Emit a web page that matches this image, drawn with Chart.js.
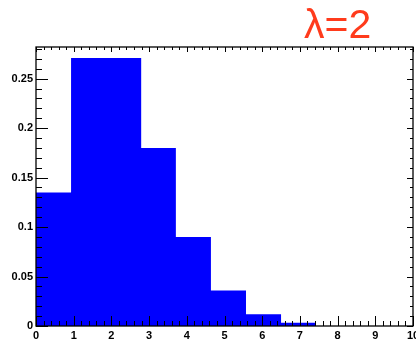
<!DOCTYPE html>
<html>
<head>
<meta charset="utf-8">
<script src="https://cdn.jsdelivr.net/npm/chart.js@4.4.0/dist/chart.umd.min.js"></script>
<style>
  html, body { margin: 0; padding: 0; background: #fff; }
  #wrap { width: 416px; height: 340px; position: relative; }
</style>
</head>
<body>
<div id="wrap"><canvas id="chartPoisson"></canvas></div>
<script>
// histogram bins: left edges and contents (last edge closes the final bin)
const binEdges = [0, 0.93, 1.86, 2.79, 3.71, 4.64, 5.57, 6.5, 7.43];
const binValues = [0.135, 0.271, 0.271, 0.180, 0.090, 0.036, 0.012, 0.0034];
const xTickValues = [0, 1, 2, 3, 4, 5, 6, 7, 8, 9, 10];
const yTickValues = [0, 0.05, 0.1, 0.15, 0.2, 0.25];
const titleText = 'λ=2';

const tickFont = { family: 'Liberation Sans', size: 11, weight: 'bold' };

// ROOT-like frame with inward ticks on all four sides
const frameTicks = {
  id: 'frameTicks',
  afterDraw(chart) {
    const { ctx, chartArea: a, scales: { x, y } } = chart;
    ctx.save();
    ctx.strokeStyle = '#000';
    ctx.lineWidth = 1.3;
    ctx.strokeRect(a.left, a.top, a.right - a.left, a.bottom - a.top);
    ctx.lineWidth = 1;
    ctx.beginPath();
    for (let i = 0; i <= 50; i++) {
      const px = Math.round(x.getPixelForValue(i * 0.2)) + 0.5;
      const major = i % 5 === 0;
      ctx.moveTo(px, a.bottom); ctx.lineTo(px, a.bottom - (major ? 10 : 5));
      ctx.moveTo(px, a.top); ctx.lineTo(px, a.top + (major ? 5 : 3));
    }
    for (let i = 0; i <= 28; i++) {
      const py = Math.round(y.getPixelForValue(i * 0.01)) + 0.5;
      const major = i % 5 === 0;
      ctx.moveTo(a.left, py); ctx.lineTo(a.left + (major ? 12 : 6), py);
      ctx.moveTo(a.right, py); ctx.lineTo(a.right - (major ? 6 : 3), py);
    }
    ctx.stroke();

    ctx.fillStyle = '#ff3b1c';
    ctx.font = '300 41px "Liberation Sans", "Open Sans", sans-serif';
    ctx.textBaseline = 'alphabetic';
    ctx.textAlign = 'left';
    ctx.fillText(titleText, 304, 38);
    ctx.restore();
  },
};

new Chart(document.getElementById('chartPoisson').getContext('2d'), {
  type: 'line',
  data: {
    datasets: [{
      data: binEdges.map((edge, i) => ({ x: edge, y: binValues[i] ?? 0 })),
      stepped: true,
      fill: 'origin',
      backgroundColor: '#0000ff',
      borderColor: '#0000ff',
      borderWidth: 0,
      pointRadius: 0,
    }],
  },
  options: {
    responsive: true,
    maintainAspectRatio: false,
    animation: false,
    layout: { padding: { top: 47, right: 3, left: 0, bottom: 0 } },
    scales: {
      x: {
        type: 'linear',
        min: 0,
        max: 10,
        grid: { display: false, drawTicks: false },
        border: { display: false },
        afterBuildTicks: (s) => { s.ticks = xTickValues.map((v) => ({ value: v })); },
        afterFit: (s) => { s.height = 14; s.paddingLeft = 0; s.paddingRight = 0; },
        ticks: { font: tickFont, color: '#000', padding: 3, maxRotation: 0, autoSkip: false },
      },
      y: {
        min: 0,
        max: 0.282,
        grid: { display: false, drawTicks: false },
        border: { display: false },
        afterBuildTicks: (s) => { s.ticks = yTickValues.map((v) => ({ value: v })); },
        afterFit: (s) => { s.width = 36; s.paddingTop = 0; s.paddingBottom = 0; },
        ticks: { font: tickFont, color: '#000', padding: 3, callback: (v) => String(v) },
      },
    },
    plugins: {
      legend: { display: false },
      tooltip: { enabled: false },
    },
  },
  plugins: [frameTicks],
});
</script>
</body>
</html>
